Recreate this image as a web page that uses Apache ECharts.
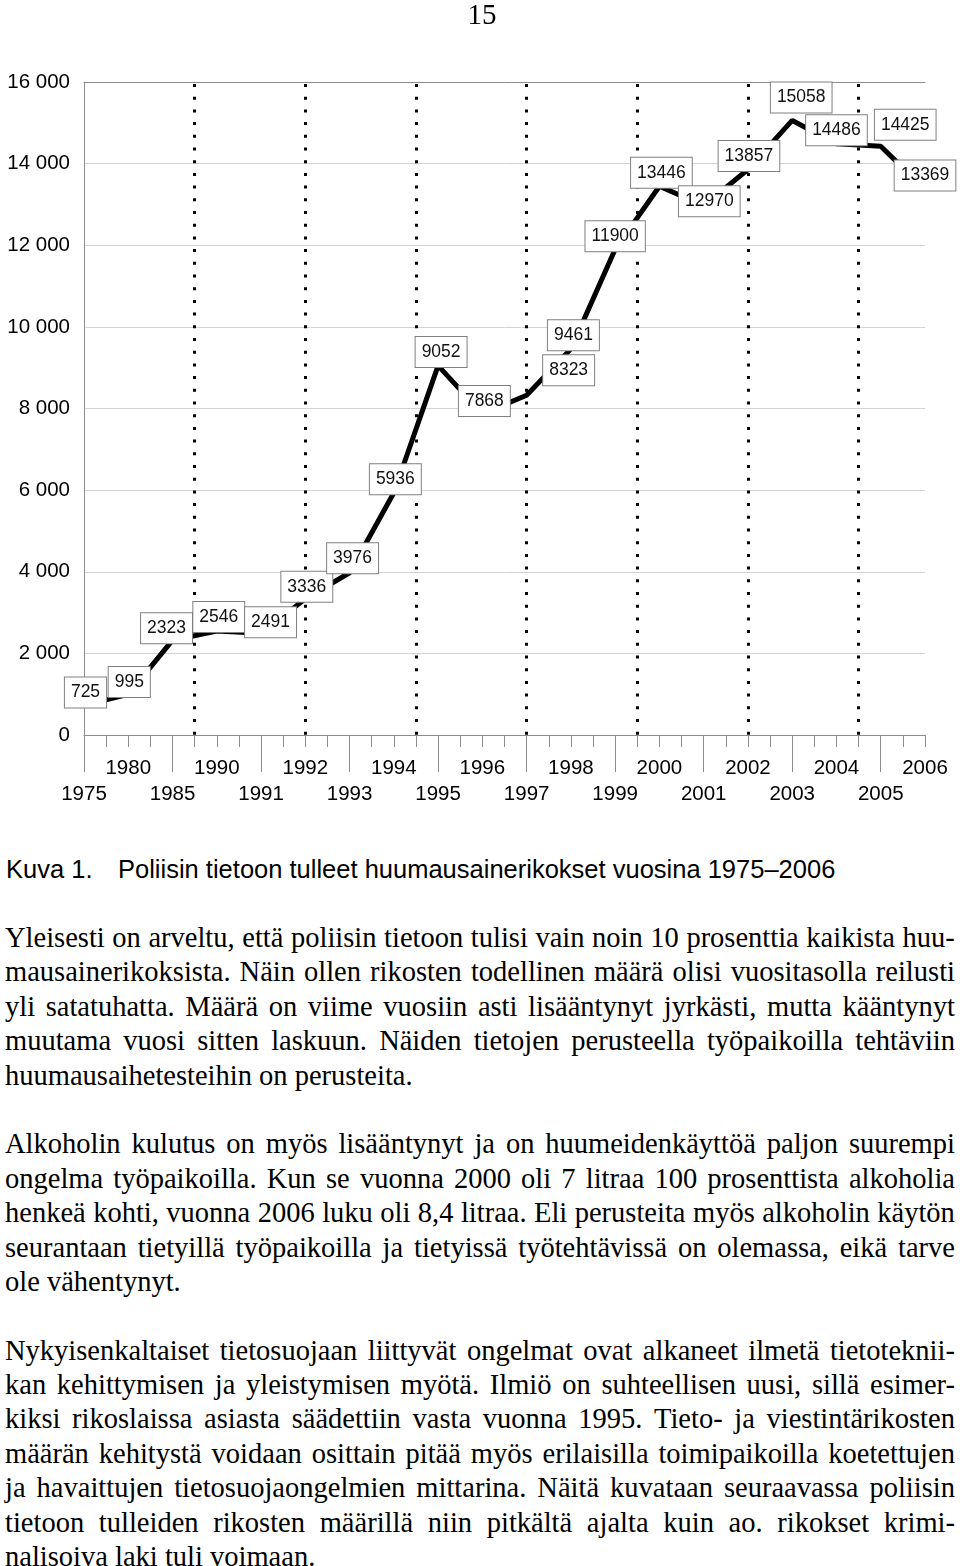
<!DOCTYPE html>
<html><head><meta charset="utf-8">
<script src="https://cdn.jsdelivr.net/npm/echarts@6/dist/echarts.min.js"></script>
<style>
html,body{margin:0;padding:0;background:#fff;}
body{width:960px;height:1566px;position:relative;overflow:hidden;}
#chart{position:absolute;left:0;top:0;width:960px;height:840px;z-index:1;}
#page{position:absolute;left:0;top:-2px;width:964px;text-align:center;font-family:"Liberation Serif",serif;font-size:29px;line-height:32px;color:#000;z-index:2;}
#cap{position:absolute;left:0;top:854px;width:960px;height:30px;font-family:"Liberation Sans",Arial,sans-serif;font-size:25.5px;line-height:30px;color:#000;}
#cap span{position:absolute;top:0;white-space:nowrap;}
#body{position:absolute;left:5px;top:921px;width:950px;font-family:"Liberation Serif","Times New Roman",serif;font-size:28.5px;line-height:34.4px;color:#000;}
.ln{height:34.4px;white-space:nowrap;}
.j{display:flex;justify-content:space-between;}
</style></head>
<body>
<div id="page">15</div>
<div id="chart"></div>
<div id="cap"><span style="left:6px">Kuva 1.</span><span style="left:118px">Poliisin tietoon tulleet huumausainerikokset vuosina 1975–2006</span></div>
<div id="body"></div>
<script>
// ---- data ----
const years = ['1975','1980','1985','1990','1991','1992','1993','1994','1995','1996','1997','1998','1999','2000','2001','2002','2003','2004','2005','2006'];
const cases = [725,995,2323,2546,2491,3336,3976,5936,9052,7868,8323,9461,11900,13446,12970,13857,15058,14486,14425,13369];
const yTicks = [0,2000,4000,6000,8000,10000,12000,14000,16000];
// label box offsets (style): [dx, dy] from point
const labelOffsets = [[1.5,-13],[1,-12.5],[-6,-12],[2,-14],[9.5,-11],[1.5,-12],[3,-14.5],[1.5,-13.5],[3,-13.5],[2,-13],[42,-25],[2.5,-13.5],[0,-13],[2,-13.5],[5.6,-4.5],[1,-13.5],[9,-23],[0,-13.5],[24.5,-21.5],[0,-14]];

const para1 = [
 'Yleisesti on arveltu, että poliisin tietoon tulisi vain noin 10 prosenttia kaikista huu-',
 'mausainerikoksista. Näin ollen rikosten todellinen määrä olisi vuositasolla reilusti',
 'yli satatuhatta. Määrä on viime vuosiin asti lisääntynyt jyrkästi, mutta kääntynyt',
 'muutama vuosi sitten laskuun. Näiden tietojen perusteella työpaikoilla tehtäviin',
 'huumausaihetesteihin on perusteita.'];
const para2 = [
 'Alkoholin kulutus on myös lisääntynyt ja on huumeidenkäyttöä paljon suurempi',
 'ongelma työpaikoilla. Kun se vuonna 2000 oli 7 litraa 100 prosenttista alkoholia',
 'henkeä kohti, vuonna 2006 luku oli 8,4 litraa. Eli perusteita myös alkoholin käytön',
 'seurantaan tietyillä työpaikoilla ja tietyissä työtehtävissä on olemassa, eikä tarve',
 'ole vähentynyt.'];
const para3 = [
 'Nykyisenkaltaiset tietosuojaan liittyvät ongelmat ovat alkaneet ilmetä tietoteknii-',
 'kan kehittymisen ja yleistymisen myötä. Ilmiö on suhteellisen uusi, sillä esimer-',
 'kiksi rikoslaissa asiasta säädettiin vasta vuonna 1995. Tieto- ja viestintärikosten',
 'määrän kehitystä voidaan osittain pitää myös erilaisilla toimipaikoilla koetettujen',
 'ja havaittujen tietosuojaongelmien mittarina. Näitä kuvataan seuraavassa poliisin',
 'tietoon tulleiden rikosten määrillä niin pitkältä ajalta kuin ao. rikokset krimi-',
 'nalisoiva laki tuli voimaan.'];

// ---- body text ----
const bodyEl = document.getElementById('body');
[para1, para2, para3].forEach((p, pi) => {
  p.forEach((line, li) => {
    const d = document.createElement('div');
    d.className = 'ln';
    if (li < p.length - 1) {
      d.classList.add('j');
      line.split(' ').forEach(w => { const s = document.createElement('span'); s.textContent = w; d.appendChild(s); });
    } else {
      d.textContent = line;
    }
    bodyEl.appendChild(d);
  });
  if (pi < 2) { const b = document.createElement('div'); b.className = 'ln'; bodyEl.appendChild(b); }
});

// ---- chart ----
const chart = echarts.init(document.getElementById('chart'), null, {renderer: 'canvas'});
const gray = '#8c8c8c';
const fmt = v => String(v).replace(/\B(?=(\d{3})+(?!\d))/g, ' ');
chart.setOption({
  animation: false,
  backgroundColor: 'transparent',
  grid: {left: 84, right: 35, top: 82, bottom: 105},
  xAxis: [
    {
      type: 'category', data: years, boundaryGap: false, position: 'bottom',
      axisLine: {show: true, lineStyle: {color: gray, width: 1}},
      axisTick: {show: true, interval: (i) => i % 2 === 0, length: 37, lineStyle: {color: gray, width: 1}},
      axisLabel: {interval: 0, fontSize: 20.5, fontFamily: 'Liberation Sans', color: '#000', lineHeight: 26, margin: 20,
        formatter: (v, i) => (i % 2 === 1 ? v : '\n' + v)},
      splitLine: {show: false}
    },
    {
      type: 'value', min: 0, max: 19, interval: 0.5, position: 'bottom',
      axisLine: {show: false}, axisLabel: {show: false}, splitLine: {show: false},
      axisTick: {show: true, length: 12, lineStyle: {color: gray, width: 1}}
    },
    {
      type: 'value', min: 0, max: 19, interval: 2.5, position: 'top',
      axisLine: {show: true, lineStyle: {color: gray, width: 1}},
      axisTick: {show: false}, axisLabel: {show: false},
      splitLine: {show: true, showMinLine: false, showMaxLine: false,
        lineStyle: {color: '#000', width: 3, type: [3, 9.7], dashOffset: -2}}
    }
  ],
  yAxis: {
    type: 'value', min: yTicks[0], max: yTicks[yTicks.length - 1], interval: 2000,
    axisLine: {show: true, lineStyle: {color: gray, width: 1}},
    axisTick: {show: false},
    axisLabel: {fontSize: 20.5, fontFamily: 'Liberation Sans', color: '#000', margin: 14, formatter: fmt},
    splitLine: {show: true, lineStyle: {color: '#d4d4d4', width: 1}}
  },
  series: [{
    type: 'line', xAxisIndex: 0, yAxisIndex: 0,
    data: cases.map((v, i) => ({value: v, label: {offset: labelOffsets[i]}})),
    symbol: 'circle', symbolSize: 1, showSymbol: true,
    itemStyle: {color: '#000'},
    lineStyle: {color: '#000', width: 5},
    label: {show: true, position: 'inside', formatter: '{c}', fontSize: 17.5, fontFamily: 'Liberation Sans',
      color: '#111', backgroundColor: '#fff', borderColor: '#808080', borderWidth: 1,
      padding: [6, 6, 5, 6], lineHeight: 19},
    z: 5
  }]
});
</script>
</body></html>
